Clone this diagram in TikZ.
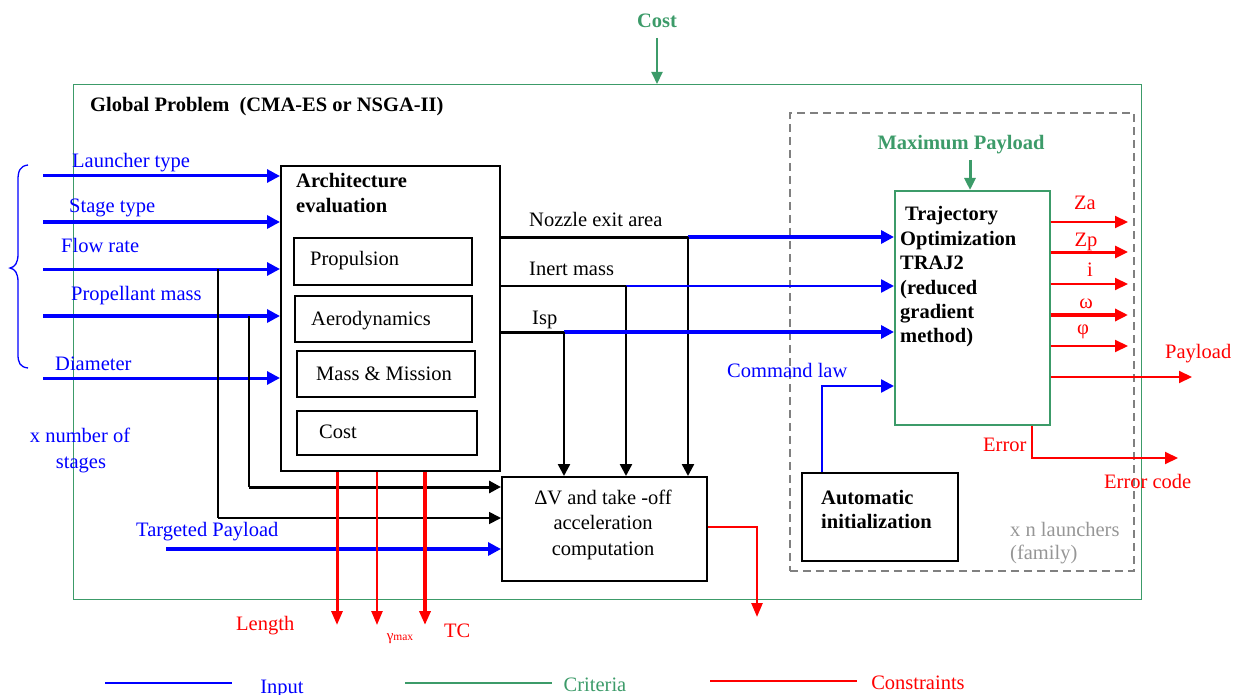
\documentclass[tikz,border=0pt]{standalone}
\usepackage{fontspec}
\setmainfont{Liberation Serif}
\usetikzlibrary{arrows.meta}
\definecolor{gr}{RGB}{60,155,105}
\definecolor{bl}{RGB}{0,0,255}
\definecolor{rd}{RGB}{255,0,0}
\definecolor{gy}{RGB}{128,128,128}
\definecolor{gyt}{RGB}{150,150,150}
\begin{document}
\begin{tikzpicture}[x=1pt,y=-1pt,
  txt/.style={inner sep=0pt, text height=18pt, text depth=2pt, font=\fontsize{20.5}{24}\selectfont},
  btxt/.style={txt, font=\fontsize{20.5}{24}\selectfont\bfseries},
  bx/.style={draw=black, line width=1.6pt, anchor=north west, inner sep=0pt},
  inarr/.style={draw=bl, line width=3pt, -{Triangle[length=13pt,width=13pt]}},
  redarr/.style={draw=rd, line width=2.5pt, -{Triangle[length=13pt,width=12pt]}},
  blkarr/.style={draw=black, line width=2.5pt, -{Triangle[length=12pt,width=12pt]}},
  grarr/.style={draw=gr, line width=2pt, -{Triangle[length=12pt,width=11pt]}}
]
\useasboundingbox (0,0) rectangle (1239,695);
% ---------- boxes
\node[bx, draw=gr, line width=1.4pt, minimum width=1068pt, minimum height=515pt] (gp) at (73,84) {};
\node[bx, draw=gy, dash pattern=on 8pt off 5pt, line width=1.6pt, minimum width=344pt, minimum height=458pt] (fam) at (789,112) {};
\node[bx, draw=gr, line width=1.6pt, minimum width=155pt, minimum height=234pt] (traj) at (894,190) {};
\node[bx, line width=2pt, minimum width=156pt, minimum height=88pt] (auto) at (801,472) {};
\node[bx, minimum width=219pt, minimum height=305pt] (arch) at (280,165) {};
\node[bx, minimum width=178pt, minimum height=47pt] (prop) at (293,237) {};
\node[bx, minimum width=177pt, minimum height=46pt] (aero) at (294,295) {};
\node[bx, minimum width=178pt, minimum height=46pt] (mass) at (296,350) {};
\node[bx, minimum width=180pt, minimum height=44pt] (costb) at (296,410) {};
\node[bx, minimum width=205pt, minimum height=104pt] (dv) at (501,476) {};
% ---------- texts
\node[btxt, text=gr] (costlbl) at (657,20) {Cost};
\node[btxt, anchor=west] (gptxt) at (90,104) {Global Problem\ \ (CMA-ES or NSGA-II)};
\node[btxt, text=gr] (mplbl) at (961,142) {Maximum Payload};
\node[btxt, anchor=west] (t1) at (905,212) {Trajectory};
\node[btxt, anchor=west] (t2) at (900,237) {Optimization};
\node[btxt, anchor=west] (t3) at (900,261) {TRAJ2};
\node[btxt, anchor=west] (t4) at (900,286) {(reduced};
\node[btxt, anchor=west] (t5) at (900,310) {gradient};
\node[btxt, anchor=west] (t6) at (900,334) {method)};
\node[btxt, anchor=west] (a1) at (821,496) {Automatic};
\node[btxt, anchor=west] (a2) at (821,520) {initialization};
\node[txt, anchor=west, text=gyt] (f1) at (1010,528) {x n launchers};
\node[txt, anchor=west, text=gyt] (f2) at (1010,551) {(family)};
\node[btxt, anchor=west] (ae1) at (296,180) {Architecture};
\node[btxt, anchor=west] (ae2) at (296,205) {evaluation};
\node[txt, anchor=west] (pt) at (310,257) {Propulsion};
\node[txt, anchor=west] (at) at (311,317) {Aerodynamics};
\node[txt, anchor=west] (mt) at (316,372) {Mass \& Mission};
\node[txt, anchor=west] (ct) at (319,430) {Cost};
\node[txt] (dv1) at (603,496) {ΔV and take -off};
\node[txt] (dv2) at (603,521) {acceleration};
\node[txt] (dv3) at (603,547) {computation};
\node[txt, anchor=west] (nzt) at (529,218) {Nozzle exit area};
\node[txt, anchor=west] (imt) at (529,267) {Inert mass};
\node[txt, anchor=west] (ispt) at (532,316) {Isp};
\node[txt, anchor=west, text=bl] (i1) at (72,160) {Launcher type};
\node[txt, anchor=west, text=bl] (i2) at (69,205) {Stage type};
\node[txt, anchor=west, text=bl] (i3) at (61,244) {Flow rate};
\node[txt, anchor=west, text=bl] (i4) at (71,292) {Propellant mass};
\node[txt, anchor=west, text=bl] (i5) at (55,362) {Diameter};
\node[txt, text=bl] (ns1) at (80,434) {x number of};
\node[txt, text=bl] (ns2) at (81,460) {stages};
\node[txt, anchor=west, text=bl] (tpt) at (136,528) {Targeted Payload};
\node[txt, anchor=west, text=bl] (clt) at (727,369) {Command law};
\node[txt, text=rd] (za) at (1085,202) {Za};
\node[txt, text=rd] (zp) at (1086,238) {Zp};
\node[txt, text=rd] (ii) at (1090,268) {i};
\node[txt, text=rd] (om) at (1086,300) {ω};
\node[txt, text=rd] (ph) at (1083,326) {φ};
\node[txt, anchor=west, text=rd] (plt) at (1165,350) {Payload};
\node[txt, anchor=west, text=rd] (ert) at (983,443) {Error};
\node[txt, anchor=west, text=rd] (ect) at (1104,480) {Error code};
\node[txt, anchor=west, text=rd] (lnt) at (236,622) {Length};
\node[inner sep=0pt, text=rd, font=\fontsize{15}{16}\selectfont] (gmt) at (400,639) {γ{\fontsize{11.5}{12}\selectfont max}};
\node[txt, anchor=west, text=rd] (tct) at (444,629) {TC};
\node[txt, text=bl] (lg1) at (282,685) {Input};
\node[txt, text=gr] (lg2) at (595,683) {Criteria};
\node[txt, text=rd] (lg3) at (918,681) {Constraints};
% ---------- brace
\draw[bl, line width=1.3pt] (28,165) .. controls (20,166) and (18,171) .. (18,180) -- (18,254)
  .. controls (18,263) and (15,267) .. (10,268) .. controls (15,269) and (18,273) .. (18,282)
  -- (18,354) .. controls (18,363) and (20,367) .. (28,368);
% ---------- inputs
\coordinate (s1) at (43,176);
\coordinate (s2) at (43,222);
\coordinate (s3) at (43,269);
\coordinate (s4) at (43,316);
\coordinate (s5) at (43,378);
\draw[inarr] (s1) -- (arch.west |- s1);
\draw[inarr, line width=4pt] (s2) -- (arch.west |- s2);
\draw[inarr] (s3) -- (arch.west |- s3);
\draw[inarr, line width=3.5pt] (s4) -- (arch.west |- s4);
\draw[inarr] (s5) -- (arch.west |- s5);
% ---------- black feeds to dV
\coordinate (j1) at (218,269);
\coordinate (j2) at (249,316);
\coordinate (k1) at (218,518);
\coordinate (k2) at (249,487);
\draw[line width=1.5pt] (j1) -- (k1);
\draw[blkarr, line width=1.8pt] (k1) -- (dv.west |- k1);
\draw[line width=1.5pt] (j2) -- (k2);
\draw[blkarr, line width=3pt] (k2) -- (dv.west |- k2);
\coordinate (tp) at (166,549);
\draw[inarr, line width=3.5pt] (tp) -- (dv.west |- tp);
% ---------- outputs of architecture
\coordinate (nz) at (688,237);
\coordinate (im) at (626,286);
\coordinate (isp) at (564,332);
\draw[line width=3pt] (arch.east |- nz) -- (nz);
\draw[inarr, line width=3.5pt] (nz) -- (traj.west |- nz);
\draw[blkarr] (nz) -- (dv.north -| nz);
\draw[line width=2pt] (arch.east |- im) -- (im);
\draw[inarr, line width=2.5pt] (im) -- (traj.west |- im);
\draw[blkarr] (im) -- (dv.north -| im);
\draw[line width=3pt] (arch.east |- isp) -- (isp);
\draw[inarr, line width=3.5pt] (isp) -- (traj.west |- isp);
\draw[blkarr] (isp) -- (dv.north -| isp);
% ---------- command law
\coordinate (cl) at (822,386);
\draw[inarr, line width=2.5pt] (auto.north -| cl) |- (traj.west |- cl);
% ---------- trajectory outputs
\coordinate (o1) at (1128,222);
\coordinate (o2) at (1128,252);
\coordinate (o3) at (1128,284);
\coordinate (o4) at (1128,315);
\coordinate (o5) at (1128,346);
\draw[redarr, line width=2pt] (traj.east |- o1) -- (o1);
\draw[redarr, line width=3pt] (traj.east |- o2) -- (o2);
\draw[redarr, line width=2pt] (traj.east |- o3) -- (o3);
\draw[redarr, line width=3.5pt] (traj.east |- o4) -- (o4);
\draw[redarr, line width=2pt] (traj.east |- o5) -- (o5);
\coordinate (pl) at (1192,377);
\draw[redarr, line width=2pt] (traj.east |- pl) -- (pl);
\coordinate (erx) at (1032,458);
\coordinate (erc) at (1178,458);
\draw[redarr, line width=2pt] (traj.south -| erx) |- (erc);
% ---------- green criteria
\coordinate (cs) at (657,38);
\draw[grarr] (cs) -- (gp.north -| cs);
\coordinate (mp) at (970,160);
\draw[grarr, line width=3pt] (mp) -- (traj.north -| mp);
% ---------- constraints from architecture
\coordinate (ln) at (337,625);
\coordinate (gm) at (377,625);
\coordinate (tc) at (425,625);
\draw[redarr, line width=3pt, -{Triangle[length=14pt,width=11pt]}] (arch.south -| ln) -- (ln);
\draw[redarr, line width=2.5pt, -{Triangle[length=14pt,width=11pt]}] (arch.south -| gm) -- (gm);
\draw[redarr, line width=3.5pt, -{Triangle[length=14pt,width=11pt]}] (arch.south -| tc) -- (tc);
\coordinate (dvy) at (706,527);
\coordinate (dvo) at (757,617);
\draw[redarr, line width=2.5pt, -{Triangle[length=14pt,width=11pt]}] (dv.east |- dvy) -| (dvo);
% ---------- legend
\coordinate (lb1) at (105,683); \coordinate (lb2) at (232,683);
\coordinate (lgA) at (405,683); \coordinate (lgB) at (552,683);
\coordinate (lr1) at (710,681); \coordinate (lr2) at (857,681);
\draw[bl, line width=2pt] (lb1) -- (lb2);
\draw[gr, line width=2pt] (lgA) -- (lgB);
\draw[rd, line width=2pt] (lr1) -- (lr2);
\end{tikzpicture}
\end{document}
